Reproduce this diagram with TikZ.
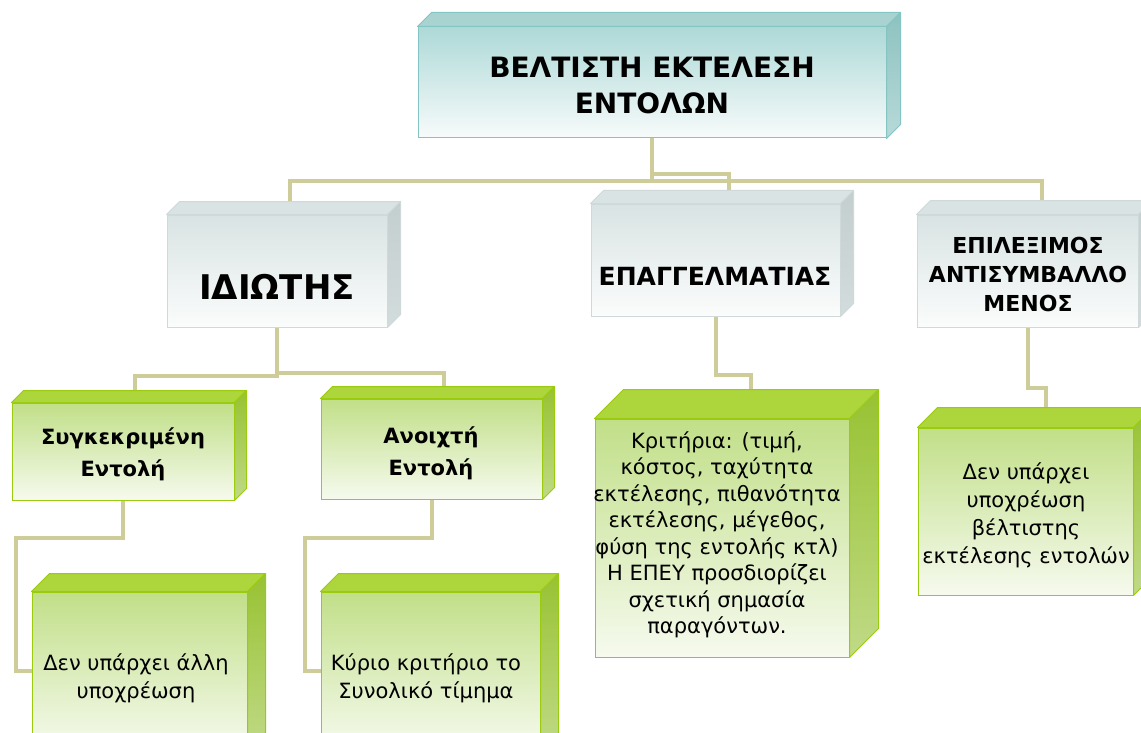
\documentclass[tikz,border=0pt]{standalone}
\usepackage{fontspec}
\setmainfont{DejaVu Sans}
\usetikzlibrary{fit,backgrounds}
% palettes
\definecolor{conncol}{RGB}{206,204,152}
\definecolor{tealfront}{RGB}{173,217,215}
\definecolor{tealbottom}{RGB}{247,251,251}
\definecolor{tealtop}{RGB}{169,211,209}
\definecolor{tealside}{RGB}{141,194,192}
\definecolor{tealsidebottom}{RGB}{183,218,217}
\definecolor{tealline}{RGB}{132,196,194}
\definecolor{greyfront}{RGB}{217,227,227}
\definecolor{greybottom}{RGB}{251,252,252}
\definecolor{greytop}{RGB}{218,227,227}
\definecolor{greyside}{RGB}{195,206,206}
\definecolor{greysidebottom}{RGB}{211,220,220}
\definecolor{greyline}{RGB}{207,217,217}
\definecolor{greenfront}{RGB}{193,223,136}
\definecolor{greenbottom}{RGB}{246,250,238}
\definecolor{greentop}{RGB}{173,213,60}
\definecolor{greenside}{RGB}{152,194,50}
\definecolor{greensidebottom}{RGB}{192,218,135}
\definecolor{greenline}{RGB}{155,203,14}
\tikzset{
  conn/.style={draw=conncol, line width=4pt},
  headtext/.style={font=\bfseries\fontsize{28}{36}\selectfont, align=center, inner sep=0pt},
  bigtext/.style={font=\bfseries\fontsize{34}{40}\selectfont, align=center, inner sep=0pt},
  midtext/.style={font=\bfseries\fontsize{25}{30}\selectfont, align=center, inner sep=0pt},
  epitext/.style={font=\bfseries\fontsize{22}{29}\selectfont, align=center, inner sep=0pt},
  subtext/.style={font=\bfseries\fontsize{21}{32}\selectfont, align=center, inner sep=0pt},
  leaftext/.style={font=\fontsize{21}{28}\selectfont, align=center, inner sep=0pt},
  krittext/.style={font=\fontsize{21}{26.5}\selectfont, align=center, inner sep=0pt},
}
% #1 name, #2 x1, #3 y1, #4 x2, #5 y2, #6 depth, #7 palette
\newcommand\cubebox[7]{%
  \node[fit={(#2,#3) (#4,#5)}, inner sep=0pt, draw=#7line, line width=1pt,
        top color=#7front, bottom color=#7bottom] (#1) {};
  \filldraw[draw=#7line, fill=#7top, line width=1pt, line join=round]
    (#1.north west) -- ++(#6,-#6) -- ([shift={(#6,-#6)}]#1.north east)
    -- (#1.north east) -- cycle;
  \filldraw[draw=#7line, line width=1pt, line join=round,
        top color=#7side, bottom color=#7sidebottom]
    (#1.north east) -- ++(#6,-#6) -- ([shift={(#6,-#6)}]#1.south east)
    -- (#1.south east) -- cycle;
  \coordinate (#1-top) at ([shift={(#6,-#6)}]#1.north);
}
\begin{document}
\begin{tikzpicture}[x=1pt,y=-1pt]
\useasboundingbox (0,0) rectangle (1141,733);
\clip (0,0) rectangle (1141,733);
\begin{pgfonlayer}{background}
  \fill[white] (0,0) rectangle (1141,733);
\end{pgfonlayer}

\cubebox{top}{418}{27}{886}{138}{14}{teal}
\cubebox{ido}{167}{215}{387}{327}{13}{grey}
\cubebox{epa}{591}{204}{840}{316}{13}{grey}
\cubebox{epi}{917}{215}{1138}{327}{14}{grey}
\cubebox{syg}{12}{403}{234}{500}{12}{green}
\cubebox{ano}{321}{399}{542}{499}{12}{green}
\cubebox{krit}{595}{419}{849}{657}{29}{green}
\cubebox{rg}{918}{428}{1133}{595}{20}{green}
\cubebox{bl}{32}{592}{247}{750}{18}{green}
\cubebox{br}{321}{592}{540}{750}{18}{green}

\begin{pgfonlayer}{background}
  \draw[conn] (top.south) -- ++(0,43) -| (ido-top);
  \draw[conn] (top.south) -- ++(0,36) -| (epa-top);
  \draw[conn] (top.south) -- ++(0,43) -| (epi-top);
  \draw[conn] (ido.south) -- ++(0,48) -| (syg-top);
  \draw[conn] (ido.south) -- ++(0,45) -| (ano-top);
  \draw[conn] (epa.south) -- ++(0,58) -| (krit-top);
  \draw[conn] (epi.south) -- ++(0,60) -| (rg-top);
  \draw[conn] (syg.south) -- ++(0,37) -| ([xshift=-16pt]bl.west) -- (bl.west);
  \draw[conn] (ano.south) -- ++(0,38) -| ([xshift=-16pt]br.west) -- (br.west);
\end{pgfonlayer}

\node[headtext] (t-top) at (652,85) {ΒΕΛΤΙΣΤΗ ΕΚΤΕΛΕΣΗ\\ΕΝΤΟΛΩΝ};
\node[bigtext] (t-ido) at (277,287) {ΙΔΙΩΤΗΣ};
\node[midtext] (t-epa) at (715,276) {ΕΠΑΓΓΕΛΜΑΤΙΑΣ};
\node[epitext] (t-epi) at (1028,274) {ΕΠΙΛΕΞΙΜΟΣ\\ΑΝΤΙΣΥΜΒΑΛΛΟ\\ΜΕΝΟΣ};
\node[subtext] (t-syg) at (123,454) {Συγκεκριμένη\\Εντολή};
\node[subtext] (t-ano) at (431,453) {Ανοιχτή\\Εντολή};
\node[krittext] (t-krit) at (717,535) {Κριτήρια: (τιμή,\\κόστος, ταχύτητα\\εκτέλεσης, πιθανότητα\\εκτέλεσης, μέγεθος,\\φύση της εντολής κτλ)\\Η ΕΠΕΥ προσδιορίζει\\σχετική σημασία\\παραγόντων.};
\node[leaftext] (t-rg) at (1026,515) {Δεν υπάρχει\\υποχρέωση\\βέλτιστης\\εκτέλεσης εντολών};
\node[leaftext] (t-bl) at (136,678) {Δεν υπάρχει άλλη\\υποχρέωση};
\node[leaftext] (t-br) at (426,678) {Κύριο κριτήριο το\\Συνολικό τίμημα};
\end{tikzpicture}
\end{document}
